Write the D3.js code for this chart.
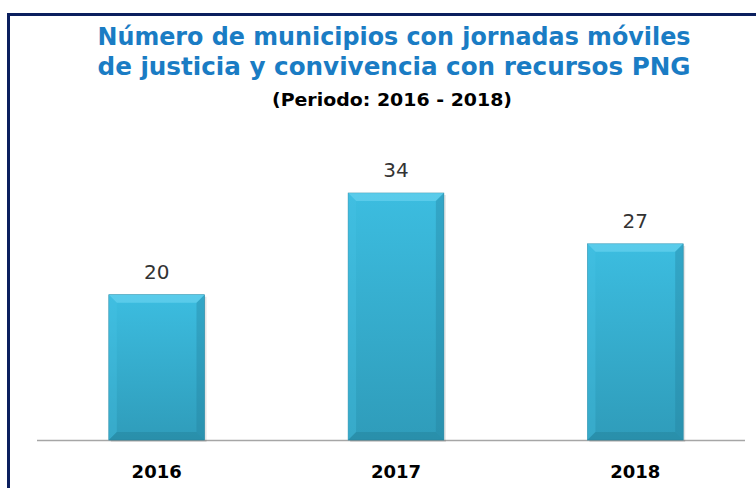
<!DOCTYPE html>
<html><head><meta charset="utf-8">
<script src="https://cdn.jsdelivr.net/npm/d3@7"></script>
<style>html,body{margin:0;padding:0;background:#fff;}svg{display:block;}</style>
</head><body>
<script>
const categories = ["2016", "2017", "2018"];
const values = [20, 34, 27];
const titleLines = ["Número de municipios con jornadas móviles", "de justicia y convivencia con recursos PNG"];
const subtitle = "(Periodo: 2016 - 2018)";

const W = 756, H = 488;
const svg = d3.select("body").append("svg").attr("width", W).attr("height", H);

// frame
svg.append("path").attr("d", `M8.5,${H} V14.5 H${W}`).attr("fill", "none")
  .attr("stroke", "#0b1f5e").attr("stroke-width", 3);

const defs = svg.append("defs");
const g = defs.append("linearGradient").attr("id", "barg").attr("x1", 0).attr("y1", 0).attr("x2", 0).attr("y2", 1);
g.append("stop").attr("offset", "0%").attr("stop-color", "#3cbde0");
g.append("stop").attr("offset", "100%").attr("stop-color", "#2f9cba");

const x = d3.scaleBand().domain(categories).range([37, 755]).paddingInner(0.6).paddingOuter(0.3);
const y = d3.scaleLinear().domain([0, 34]).range([440, 193]);

svg.append("text").selectAll("tspan").data(titleLines).join("tspan")
  .attr("x", 394).attr("y", (d, i) => 45 + i * 30)
  .attr("text-anchor", "middle").attr("font-family", "DejaVu Sans, sans-serif")
  .attr("font-weight", "bold").attr("font-size", 24).attr("fill", "#1a7cc4")
  .attr("textLength", 593).attr("lengthAdjust", "spacingAndGlyphs").text(d => d);
svg.append("text").attr("x", 392).attr("y", 106).attr("text-anchor", "middle")
  .attr("font-family", "DejaVu Sans, sans-serif").attr("font-weight", "bold")
  .attr("font-size", 17).attr("fill", "#000")
  .attr("textLength", 240).attr("lengthAdjust", "spacingAndGlyphs").text(subtitle);

// baseline
svg.append("line").attr("x1", 37).attr("x2", 745).attr("y1", 440.5).attr("y2", 440.5)
  .attr("stroke", "#a6a6a6").attr("stroke-width", 1.5);

const bars = svg.append("g").selectAll("g").data(categories).join("g");
const bw = x.bandwidth();
bars.append("rect").attr("x", d => x(d) + 2).attr("y", (d, i) => y(values[i]) + 2)
  .attr("width", bw).attr("height", (d, i) => y(0) - y(values[i])).attr("fill", "#000").attr("opacity", 0.1);
bars.append("rect").attr("x", d => x(d)).attr("y", (d, i) => y(values[i]))
  .attr("width", bw).attr("height", (d, i) => y(0) - y(values[i])).attr("fill", "url(#barg)")
  .attr("stroke", "#2a8aa6").attr("stroke-width", 0.6);
const bev = 8;
bars.append("path").attr("d", (d, i) => {
  const x0 = x(d), x1 = x0 + bw, y0 = y(values[i]);
  return `M${x0},${y0} H${x1} L${x1 - bev},${y0 + bev} H${x0 + bev} Z`;
}).attr("fill", "#6ed6f2").attr("opacity", 0.6);
bars.append("path").attr("d", (d, i) => {
  const x0 = x(d), y0 = y(values[i]), yb = y(0);
  return `M${x0},${y0} L${x0 + bev},${y0 + bev} V${yb - bev} L${x0},${yb} Z`;
}).attr("fill", "#48c3e4").attr("opacity", 0.35);
bars.append("path").attr("d", (d, i) => {
  const x1 = x(d) + bw, y0 = y(values[i]), yb = y(0);
  return `M${x1},${y0} L${x1 - bev},${y0 + bev} V${yb - bev} L${x1},${yb} Z`;
}).attr("fill", "#237f9a").attr("opacity", 0.35);
bars.append("path").attr("d", (d, i) => {
  const x0 = x(d), x1 = x0 + bw, yb = y(0);
  return `M${x0},${yb} H${x1} L${x1 - bev},${yb - bev} H${x0 + bev} Z`;
}).attr("fill", "#1f7890").attr("opacity", 0.35);

bars.append("text").attr("x", d => x(d) + bw / 2).attr("y", (d, i) => y(values[i]) - 16)
  .attr("text-anchor", "middle").attr("font-family", "DejaVu Sans, sans-serif")
  .attr("font-size", 20).attr("fill", "#333").text((d, i) => values[i]);

const xAxis = d3.axisBottom(x).tickSize(0).tickPadding(0);
const ax = svg.append("g").attr("transform", "translate(0,440)").call(xAxis);
ax.select(".domain").remove();
ax.selectAll("text").attr("y", 38).attr("dy", 0).attr("font-family", "DejaVu Sans, sans-serif")
  .attr("font-weight", "bold").attr("font-size", 18).attr("fill", "#000");
</script>
</body></html>
